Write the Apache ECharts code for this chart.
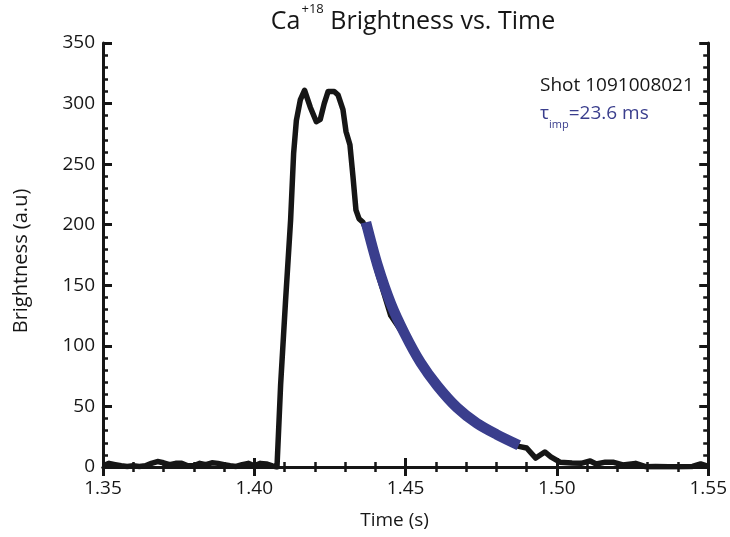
<!DOCTYPE html>
<html>
<head>
<meta charset="utf-8">
<script src="https://cdn.jsdelivr.net/npm/echarts@6/dist/echarts.min.js"></script>
<style>html,body{margin:0;padding:0;background:#fff}#c{width:730px;height:537px}</style>
</head>
<body>
<div id="c"></div>
<script>
// Measured signal (black)
const timeMeas = [1.350,1.352,1.354,1.356,1.358,1.360,1.362,1.364,1.366,1.368,1.370,1.372,1.374,1.376,1.378,1.380,1.382,1.384,1.386,1.388,1.390,1.392,1.394,1.396,1.398,1.400,1.402,1.404,1.406,1.4075,
  1.4087,1.4103,1.4120,1.4130,1.4139,1.4152,1.4166,1.4185,1.4205,1.4218,1.4231,1.4244,1.4264,1.4277,1.4293,1.4303,1.4316,1.4326,1.4336,1.4346,1.4359,
  1.4369,1.4408,1.4451,1.4497,1.4550,1.4605,1.4670,1.4736,1.4800,1.4874,1.4900,1.4930,1.4960,1.4980,1.5010,1.5050,1.5080,1.5110,1.5130,1.5160,1.5185,1.5218,1.5260,1.5293,1.5326,1.5370,1.5400,1.5448,1.5475,1.5500];
const brightMeas = [1,3,2,1,0.5,1,0.5,1,3,4.5,3.5,2,3,3,1,1,3,2,3.5,3,2,1,0.5,2,3,1,3,2.5,1,0,
  68,136,204,259,286,303,311,297,285,287,300,310,310,307,295,277,266,240,212,205,202,
  196,160,125,108,86,68,50,37,27,17,15.7,7.4,12.4,8.3,4,3.3,3,5,2.5,4,4,1.7,3,0.3,0.5,0.2,0.2,0.5,2.5,0.5];
// Exponential fit (blue), tau_imp = 23.6 ms
const timeFit = [1.4369,1.4408,1.4451,1.4497,1.4550,1.4605,1.4670,1.4736,1.4800,1.4874];
const brightFit = [202,166,135,110,86,67,49,36,27,18];
const xTicks = ['1.35','1.40','1.45','1.50','1.55'];
const yTicks = [0,50,100,150,200,250,300,350];

const F = 'Open Sans';
const INK = '#161616';
const BLUE = '#3a3e8d';
const chart = echarts.init(document.getElementById('c'));
const axisCommon = {
  axisLine: {show: true, lineStyle: {color: INK, width: 3}},
  axisTick: {show: true, inside: true, length: 9, lineStyle: {color: INK, width: 3}},
  minorTick: {show: true, splitNumber: 5, length: 5, lineStyle: {color: INK, width: 2.5}},
  splitLine: {show: false}
};
chart.setOption({
  animation: false,
  backgroundColor: '#fff',
  title: {
    text: '{a|Ca}{s|+18}{a| Brightness vs. Time}',
    left: 408, textAlign: 'center', top: -5,
    textStyle: {
      fontWeight: 'normal',
      rich: {
        a: {fontFamily: F, fontSize: 25, fontWeight: 'normal', color: INK, lineHeight: 34, verticalAlign: 'bottom'},
        s: {fontFamily: F, fontSize: 13, fontWeight: 'normal', color: INK, verticalAlign: 'top', lineHeight: 30, padding: [3, 0, 0, 1]}
      }
    }
  },
  grid: {left: 103, right: 17, top: 43, bottom: 70},
  xAxis: [
    Object.assign({}, axisCommon, {
      type: 'value', min: 1.35, max: 1.55, interval: 0.05, position: 'bottom',
      name: 'Time (s)', nameLocation: 'middle', nameGap: 44,
      nameTextStyle: {fontFamily: F, fontSize: 19, color: INK, padding: [0, 22, 0, 0]},
      axisLabel: {fontFamily: F, fontSize: 19, color: INK, margin: 12,
        formatter: v => { const s = v.toFixed(2); return xTicks.includes(s) ? s : ''; }}
    }),
    Object.assign({}, axisCommon, {
      type: 'value', min: 1.35, max: 1.55, interval: 0.05, position: 'top',
      axisLabel: {show: false}
    })
  ],
  yAxis: [
    Object.assign({}, axisCommon, {
      type: 'value', min: 0, max: 350, interval: 50, position: 'left',
      name: 'Brightness (a.u)', nameLocation: 'middle', nameGap: 72,
      nameTextStyle: {fontFamily: F, fontSize: 20, color: INK, padding: [0, 12, 0, 0]},
      axisLabel: {fontFamily: F, fontSize: 19, color: INK, margin: 8,
        formatter: v => yTicks.includes(Math.round(v)) ? String(Math.round(v)) : ''}
    }),
    Object.assign({}, axisCommon, {
      type: 'value', min: 0, max: 350, interval: 50, position: 'right',
      axisLabel: {show: false}
    })
  ],
  graphic: [
    {type: 'text', left: 540, top: 76, style: {text: 'Shot 1091008021', font: '19px "Open Sans"', fill: INK}},
    {type: 'text', left: 540, top: 104, style: {
      text: '{t|τ}{s|imp}{t|=23.6 ms}',
      rich: {
        t: {fontFamily: F, fontSize: 19, fill: BLUE, verticalAlign: 'top', lineHeight: 26},
        s: {fontFamily: F, fontSize: 11, fill: BLUE, verticalAlign: 'bottom', lineHeight: 22}
      }
    }}
  ],
  series: [
    {type: 'line', xAxisIndex: 0, yAxisIndex: 0, showSymbol: false, clip: true,
     data: timeMeas.map((t, i) => [t, brightMeas[i]]),
     lineStyle: {color: INK, width: 5.5, join: 'round'}, z: 2},
    {type: 'line', xAxisIndex: 0, yAxisIndex: 0, showSymbol: false, smooth: 0.3,
     data: timeFit.map((t, i) => [t, brightFit[i]]),
     lineStyle: {color: BLUE, width: 10.5, cap: 'butt'}, z: 3}
  ]
});
</script>
</body>
</html>
